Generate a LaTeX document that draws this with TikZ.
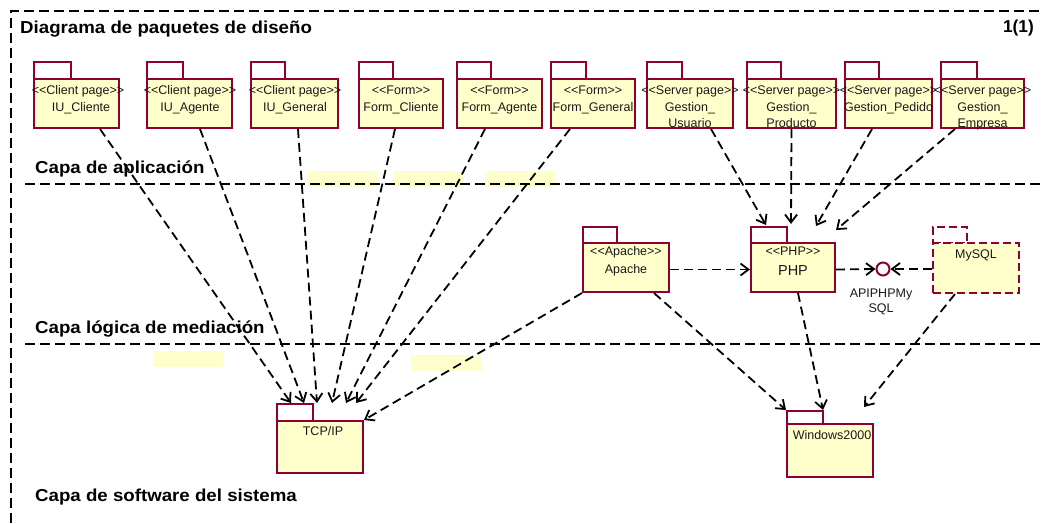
\documentclass[tikz,border=0pt]{standalone}
\usepackage{fontspec}
\setmainfont{Liberation Sans}
\newfontfamily\lib{Liberation Sans}
\usepackage{graphicx}
\usetikzlibrary{arrows.meta}
\definecolor{pkgred}{RGB}{140,0,50}
\definecolor{pkgfill}{RGB}{255,255,204}
\newcommand\wide[1]{\scalebox{1.08}[1]{#1}}
\tikzset{
  pkgbody/.style={rectangle, draw=pkgred, fill=pkgfill, line width=2pt, inner sep=0pt},
  pkgtab/.style={rectangle, draw=pkgred, fill=white, line width=2pt, inner sep=0pt},
  ptext/.style={anchor=base, inner sep=0pt, font=\lib\fontsize{12.5}{14}\selectfont, text=black!90},
  btext/.style={anchor=base west, inner sep=0pt, font=\lib\bfseries\fontsize{17.3}{19}\selectfont},
  conn/.style={draw=black, line width=1.8pt, dash pattern=on 9pt off 5pt, -{Straight Barb[length=8pt,width=12pt]}},
  framel/.style={draw=black, line width=1.8pt, dash pattern=on 10pt off 5pt},
  hlbox/.style={fill=pkgfill, draw=none}
}
% #1 extra style, #2 name, #3 x1, #4 ytab, #5 xtab, #6 ybody, #7 x2, #8 y2
\newcommand\pkg[8][]{%
  \node[pkgtab,#1,minimum width={#5-#3},minimum height={#6-#4}] (#2tab) at ({(#3+#5)/2},{(#4+#6)/2}) {};
  \node[pkgbody,#1,minimum width={#7-#3},minimum height={#8-#6}] (#2) at ({(#3+#7)/2},{(#6+#8)/2}) {};
}
\begin{document}
\begin{tikzpicture}[x=1pt,y=-1pt]
\useasboundingbox (0,0) rectangle (1044,523);
% highlight artifacts
\fill[hlbox] (307,171) rectangle (377,187);
\fill[hlbox] (393,171) rectangle (463,187);
\fill[hlbox] (485,171) rectangle (555,187);
\fill[hlbox] (153,351) rectangle (223,367);
\fill[hlbox] (411,355) rectangle (481,371);
% frame
\coordinate (ftl) at (11,11);
\coordinate (ftr) at (1044,11);
\coordinate (fbl) at (11,523);
\draw[framel] (fbl) -- (ftl) -- (ftr);
% layer lines
\coordinate (l1a) at (25,184); \coordinate (l1b) at (1044,184);
\coordinate (l2a) at (25,344); \coordinate (l2b) at (1044,344);
\draw[framel] (l1a) -- (l1b);
\draw[framel] (l2a) -- (l2b);
% titles
\node[btext] (title) at (20,33) {\wide{Diagrama de paquetes de diseño}};
\node[btext, anchor=base east] (pg) at (1034,32) {1(1)};
\node[btext] (lay1) at (35,173) {\wide{Capa de aplicación}};
\node[btext] (lay2) at (35,333) {\wide{Capa lógica de mediación}};
\node[btext] (lay3) at (35,501) {\wide{Capa de software del sistema}};
% top packages
\pkg{p1}{34}{62}{71}{79}{119}{128}
\pkg{p2}{147}{62}{183}{79}{232}{128}
\pkg{p3}{251}{62}{285}{79}{338}{128}
\pkg{p4}{359}{62}{393}{79}{443}{128}
\pkg{p5}{457}{62}{491}{79}{542}{128}
\pkg{p6}{551}{62}{586}{79}{635}{128}
\pkg{p7}{647}{62}{682}{79}{733}{128}
\pkg{p8}{747}{62}{781}{79}{836}{128}
\pkg{p9}{845}{62}{879}{79}{932}{128}
\pkg{p10}{941}{62}{977}{79}{1024}{128}
\node[ptext] (p1s) at (78,94) {<<Client page>>};
\node[ptext] (p1n) at (81,111) {IU\_Cliente};
\node[ptext] (p2s) at (190,94) {<<Client page>>};
\node[ptext] (p2n) at (190,111) {IU\_Agente};
\node[ptext] (p3s) at (295,94) {<<Client page>>};
\node[ptext] (p3n) at (295,111) {IU\_General};
\node[ptext] (p4s) at (401,94) {<<Form>>};
\node[ptext] (p4n) at (401,111) {Form\_Cliente};
\node[ptext] (p5s) at (499.5,94) {<<Form>>};
\node[ptext] (p5n) at (499.5,111) {Form\_Agente};
\node[ptext] (p6s) at (593,94) {<<Form>>};
\node[ptext] (p6n) at (593,111) {Form\_General};
\node[ptext] (p7s) at (690,94) {<<Server page>>};
\node[ptext] (p7n) at (690,111) {Gestion\_};
\node[ptext] (p7m) at (690,127) {Usuario};
\node[ptext] (p8s) at (791.5,94) {<<Server page>>};
\node[ptext] (p8n) at (791.5,111) {Gestion\_};
\node[ptext] (p8m) at (791.5,127) {Producto};
\node[ptext] (p9s) at (888.5,94) {<<Server page>>};
\node[ptext] (p9n) at (888.5,111) {Gestion\_Pedido};
\node[ptext] (p10s) at (982.5,94) {<<Server page>>};
\node[ptext] (p10n) at (982.5,111) {Gestion\_};
\node[ptext] (p10m) at (982.5,127) {Empresa};
% middle packages
\pkg{apache}{583}{227}{617}{243}{669}{292}
\pkg{php}{751}{227}{787}{243}{835}{292}
\pkg[dash pattern=on 8pt off 4pt]{mysql}{933}{227}{967}{243}{1019}{293}
\node[ptext] (apaches) at (626,255) {<<Apache>>};
\node[ptext] (apachen) at (626,273) {Apache};
\node[ptext] (phps) at (793,255) {<<PHP>>};
\node[ptext, font=\lib\fontsize{14.5}{16}\selectfont] (phpn) at (793,275) {PHP};
\node[ptext] (mysqln) at (976,258) {MySQL};
\node[circle, draw=pkgred, line width=2pt, minimum size=13pt, inner sep=0pt] (api) at (883,269) {};
\node[ptext] (apil1) at (881,297) {APIPHPMy};
\node[ptext] (apil2) at (881,312) {SQL};
% bottom packages
\pkg{tcp}{277}{404}{313}{421}{363}{473}
\pkg{win}{787}{411}{823}{424}{873}{477}
\node[ptext] (tcpn) at (323,435) {TCP/IP};
\node[ptext] (winn) at (832,439) {Windows2000};
% connectors to TCP/IP
\draw[conn] ([shift={(23.5,0)}]p1.south) -- ([shift={(15,0)}]tcptab.north west);
\draw[conn] ([shift={(10.5,0)}]p2.south) -- ([shift={(28,0)}]tcptab.north west);
\draw[conn] ([shift={(3.5,0)}]p3.south) -- ([shift={(41,0)}]tcptab.north west);
\draw[conn] ([shift={(-6,0)}]p4.south) -- ([shift={(56,0)}]tcptab.north west);
\draw[conn] ([shift={(-14.5,0)}]p5.south) -- ([shift={(70,0)}]tcptab.north west);
\draw[conn] ([shift={(-23,0)}]p6.south) -- ([shift={(80,0)}]tcptab.north west);
\draw[conn] (apache.south west) -- (tcp.north east);
% connectors to PHP
\draw[conn] ([shift={(21,0)}]p7.south) -- ([shift={(16,-17)}]php.north west);
\draw[conn] (p8.south) -- ([shift={(41,-18)}]php.north west);
\draw[conn] ([shift={(-16.5,0)}]p9.south) -- ([shift={(66,-16)}]php.north west);
\draw[conn] ([shift={(-27.5,0)}]p10.south) -- ([shift={(86,-12)}]php.north west);
\draw[conn] ([shift={(0,2)}]apache.east) -- ([shift={(0,2)}]php.west);
\draw[conn] ([shift={(0,2)}]php.east) -- (api.west);
\draw[conn] ([shift={(0,1)}]mysql.west) -- (api.east);
% connectors to Windows2000
\draw[conn] ([shift={(28,0)}]apache.south) -- (wintab.north west);
\draw[conn] ([shift={(5,0)}]php.south) -- ([shift={(-1,0)}]wintab.north east);
\draw[conn] ([shift={(-21,0)}]mysql.south) -- ([shift={(78,-16)}]win.north west);
\end{tikzpicture}
\end{document}
